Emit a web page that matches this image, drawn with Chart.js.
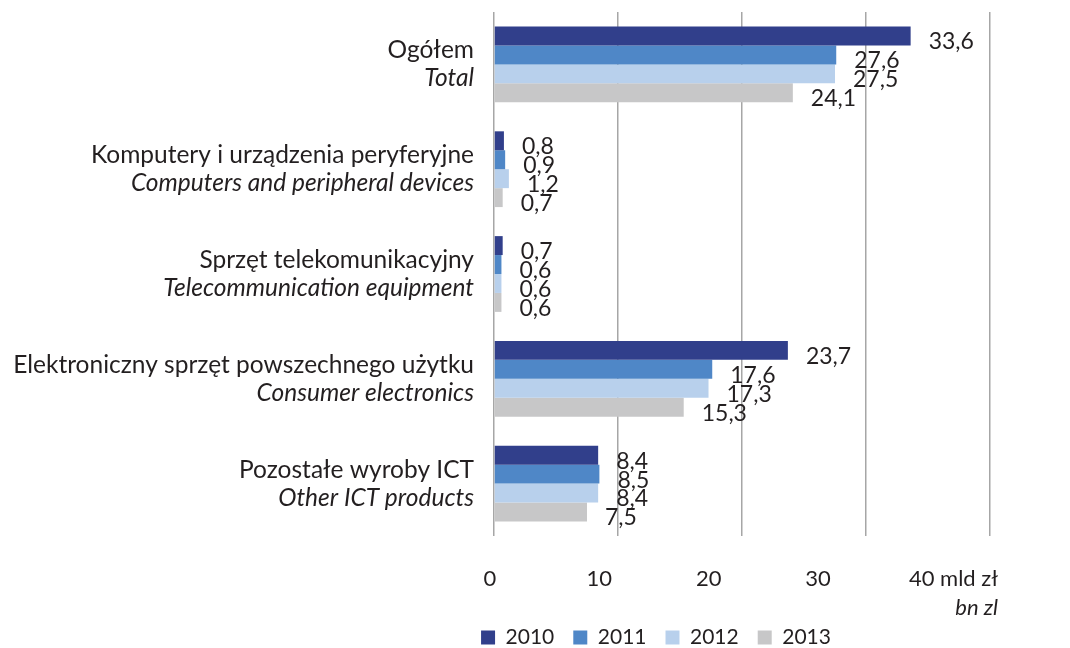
<!DOCTYPE html>
<html>
<head>
<meta charset="utf-8">
<script src="https://cdn.jsdelivr.net/npm/chart.js@4"></script>
<style>
  html, body { margin: 0; padding: 0; background: #fff; }
</style>
</head>
<body>
<canvas id="ictChart" width="1070" height="648"></canvas>
<script>
const categoriesPl = [
  'Ogółem',
  'Komputery i urządzenia peryferyjne',
  'Sprzęt telekomunikacyjny',
  'Elektroniczny sprzęt powszechnego użytku',
  'Pozostałe wyroby ICT',
]
const categoriesEn = [
  'Total',
  'Computers and peripheral devices',
  'Telecommunication equipment',
  'Consumer electronics',
  'Other ICT products',
]
const years = ['2010', '2011', '2012', '2013']
const values2010 = [33.6, 0.8, 0.7, 23.7, 8.4]
const values2011 = [27.6, 0.9, 0.6, 17.6, 8.5]
const values2012 = [27.5, 1.2, 0.6, 17.3, 8.4]
const values2013 = [24.1, 0.7, 0.6, 15.3, 7.5]
const xTicks = [0, 10, 20, 30, 40]
const unitPl = 'mld zł'
const unitEn = 'bn zl'

const colors = ['#313f8b', '#4f87c7', '#b8d0ec', '#c7c7c8']
const FONT = 'Lato'
const TEXT = '#231f20'

const fmt = (v) => v.toFixed(1).replace('.', ',')

// etykiety kategorii, osi X i wartości rysowane ręcznie
const labelsPlugin = {
  id: 'labelsPlugin',
  afterDatasetsDraw(chart) {
    const { ctx, scales } = chart
    const x = scales.x
    const y = scales.y
    ctx.save()
    ctx.fillStyle = TEXT

    // kategorie (dwie linie: PL zwykła, EN kursywa)
    ctx.textAlign = 'right'
    ctx.textBaseline = 'middle'
    categoriesPl.forEach((c, i) => {
      const cy = y.getPixelForValue(i)
      ctx.font = `24.5px ${FONT}`
      ctx.fillText(c, 474, cy - 14)
      ctx.font = `italic 24.5px ${FONT}`
      ctx.fillText(categoriesEn[i], 474, cy + 14)
    })

    // wartości przy słupkach
    ctx.font = `23px ${FONT}`
    ctx.textAlign = 'left'
    chart.data.datasets.forEach((ds, di) => {
      const meta = chart.getDatasetMeta(di)
      meta.data.forEach((bar, i) => {
        ctx.fillText(fmt(ds.data[i]), bar.x + 18, bar.y + 6)
      })
    })

    // opisy osi X
    const last = xTicks.length - 1
    xTicks.forEach((v, i) => {
      const px = x.getPixelForValue(v)
      ctx.font = `22px ${FONT}`
      if (i < last) {
        ctx.textAlign = 'center'
        ctx.fillText(String(v), x.left - 4 + (px - x.left) * 0.882, 579)
      } else {
        ctx.textAlign = 'right'
        ctx.fillText(`${v} ${unitPl}`, x.right + 8, 579)
        ctx.font = `italic 22px ${FONT}`
        ctx.fillText(unitEn, x.right + 8, 608)
      }
    })
    ctx.restore()
  },
}

const ctx = document.getElementById('ictChart').getContext('2d')

new Chart(ctx, {
  type: 'bar',
  data: {
    labels: categoriesPl,
    datasets: [values2010, values2011, values2012, values2013].map((d, i) => ({
      label: years[i],
      data: d,
      backgroundColor: colors[i],
      borderWidth: 0,
      barPercentage: 1,
      categoryPercentage: 0.723,
    })),
  },
  options: {
    indexAxis: 'y',
    responsive: false,
    animation: false,
    layout: {
      padding: { left: 322, right: 80, top: 12, bottom: -10 },
    },
    plugins: {
      legend: {
        position: 'bottom',
        labels: {
          font: { family: FONT, size: 21 },
          color: TEXT,
          boxWidth: 14,
          boxHeight: 14,
          padding: 19,
        },
      },
      tooltip: { enabled: false },
    },
    scales: {
      x: {
        min: 0,
        max: 40,
        afterBuildTicks: (scale) => {
          scale.ticks = xTicks.map((v) => ({ value: v }))
        },
        afterFit: (scale) => {
          scale.height = 72
        },
        ticks: { display: false },
        grid: { color: '#a6a6a6', lineWidth: 1.5, drawTicks: false },
        border: { display: false },
      },
      y: {
        afterFit: (scale) => {
          scale.width = 494 - 322
        },
        ticks: { display: false },
        grid: { display: false },
        border: { display: false },
      },
    },
  },
  plugins: [labelsPlugin],
})
</script>
</body>
</html>
